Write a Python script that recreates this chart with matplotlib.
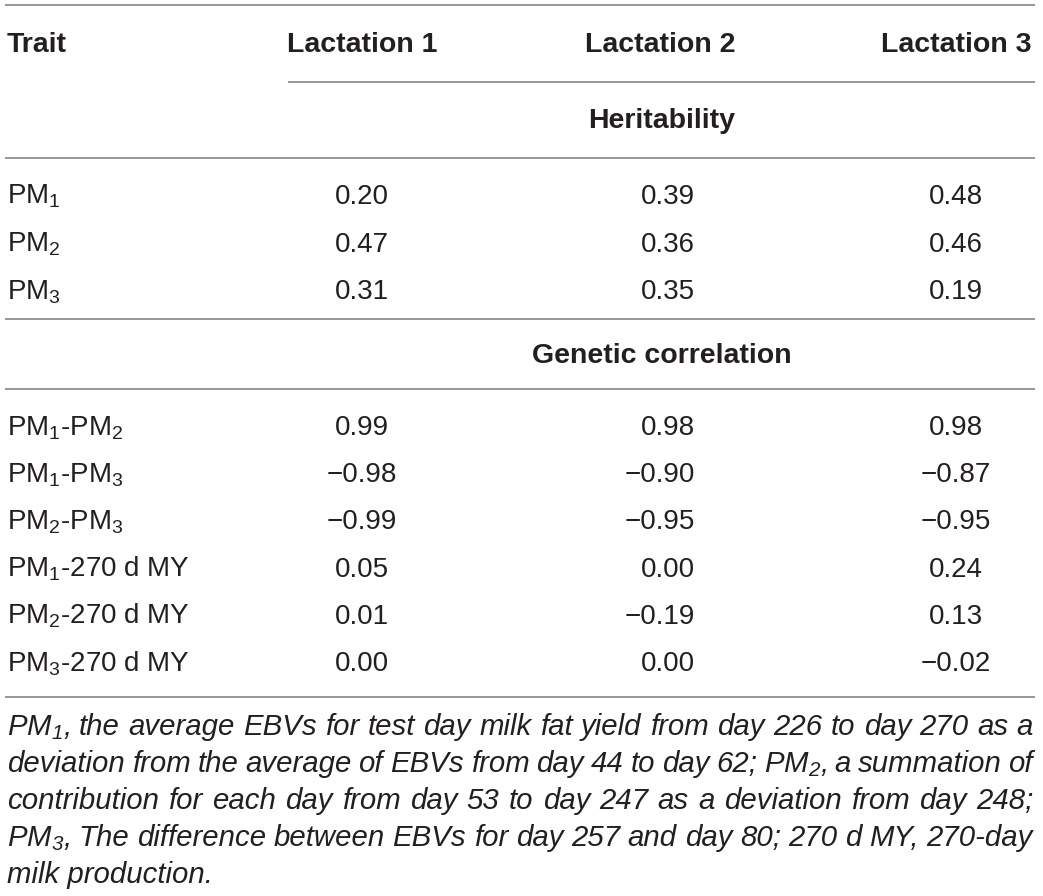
import matplotlib
matplotlib.use("Agg")
import matplotlib.pyplot as plt

plt.rcParams['font.family'] = ['Liberation Sans', 'DejaVu Sans']
plt.rcParams['mathtext.fontset'] = 'custom'
plt.rcParams['mathtext.rm'] = 'Liberation Sans'
plt.rcParams['mathtext.it'] = 'Liberation Sans:italic'

# ---------------- data ----------------
col_headers = ["Lactation 1", "Lactation 2", "Lactation 3"]
section_titles = ["Heritability", "Genetic correlation"]

her_traits = ["PM$_\\mathregular{1}$", "PM$_\\mathregular{2}$", "PM$_\\mathregular{3}$"]
her_lact1 = ["0.20", "0.47", "0.31"]
her_lact2 = ["0.39", "0.36", "0.35"]
her_lact3 = ["0.48", "0.46", "0.19"]

cor_traits = ["PM$_\\mathregular{1}$-PM$_\\mathregular{2}$",
              "PM$_\\mathregular{1}$-PM$_\\mathregular{3}$",
              "PM$_\\mathregular{2}$-PM$_\\mathregular{3}$",
              "PM$_\\mathregular{1}$-270 d MY",
              "PM$_\\mathregular{2}$-270 d MY",
              "PM$_\\mathregular{3}$-270 d MY"]
cor_lact1 = ["0.99", "\u22120.98", "\u22120.99", "0.05", "0.01", "0.00"]
cor_lact2 = ["0.98", "\u22120.90", "\u22120.95", "0.00", "\u22120.19", "0.00"]
cor_lact3 = ["0.98", "\u22120.87", "\u22120.95", "0.24", "0.13", "\u22120.02"]

footnote_lines = [
    "PM$_\\mathregular{1}$, the average EBVs for test day milk fat yield from day 226 to day 270 as a",
    "deviation from the average of EBVs from day 44 to day 62; PM$_\\mathregular{2}$, a summation of",
    "contribution for each day from day 53 to day 247 as a deviation from day 248;",
    "PM$_\\mathregular{3}$, The difference between EBVs for day 257 and day 80; 270 d MY, 270-day",
    "milk production.",
]

# ---------------- layout ----------------
W, H = 1043, 896
fig = plt.figure(figsize=(W / 100, H / 100), dpi=100)
ax = fig.add_axes([0, 0, 1, 1])
ax.set_xlim(0, W)
ax.set_ylim(H, 0)
ax.axis('off')

TXT = '#231f20'
LINE = '#8f8f8f'
FS = 20
HFS = 20.5

x_left = 7
x_line0, x_line1 = 5, 1035
col_x = [362, 695, 956]
col_ha = ['center', 'right', 'center']

# rules
for y, x0 in [(5, x_line0), (82, 288), (158, x_line0), (319, x_line0),
              (389, x_line0), (697, x_line0)]:
    ax.plot([x0, x_line1], [y, y], color=LINE, lw=1.3, solid_capstyle='butt')

# header
ax.text(x_left, 52, "Trait", fontsize=HFS, fontweight='bold', color=TXT,
        ha='left', va='baseline')
for x, h in zip([362, 660, 956], col_headers):
    ax.text(x, 52, h, fontsize=HFS, fontweight='bold', color=TXT,
            ha='center', va='baseline')

ax.text(662, 128, section_titles[0], fontsize=HFS, fontweight='bold',
        color=TXT, ha='center', va='baseline')
ax.text(662, 363, section_titles[1], fontsize=HFS, fontweight='bold',
        color=TXT, ha='center', va='baseline')

def rows(traits, cols, y0, dy):
    for i, t in enumerate(traits):
        y = y0 + i * dy
        ax.text(x_left, y, t, fontsize=FS, color=TXT, ha='left', va='baseline')
        for x, ha, c in zip(col_x, col_ha, cols):
            ax.text(x, y, c[i], fontsize=FS, color=TXT, ha=ha, va='baseline')

rows(her_traits, [her_lact1, her_lact2, her_lact3], 204, 47.5)
rows(cor_traits, [cor_lact1, cor_lact2, cor_lact3], 435, 47.2)

# footnote (justified)
fig.canvas.draw()
renderer = fig.canvas.get_renderer()
x_right = 1033
fy0, fdy = 735, 37

def width_of(s, fs):
    t = ax.text(0, 0, s, fontsize=fs, style='italic')
    bb = t.get_window_extent(renderer=renderer)
    t.remove()
    return bb.width

# pick footnote size so the first line fits naturally
nat = width_of(footnote_lines[0], FS)
FFS = FS * (x_right - x_left - 4) / nat

for li, line in enumerate(footnote_lines):
    y = fy0 + li * fdy
    words = line.split(" ")
    if li == len(footnote_lines) - 1:
        ax.text(x_left, y, line, fontsize=FFS, style='italic', color=TXT,
                ha='left', va='baseline')
        continue
    widths = [width_of(w, FFS) for w in words]
    total = sum(widths)
    gap = (x_right - x_left - total) / (len(words) - 1)
    x = x_left
    for w, wd in zip(words, widths):
        ax.text(x, y, w, fontsize=FFS, style='italic', color=TXT,
                ha='left', va='baseline')
        x += wd + gap

fig.savefig("out.png", dpi=100)
